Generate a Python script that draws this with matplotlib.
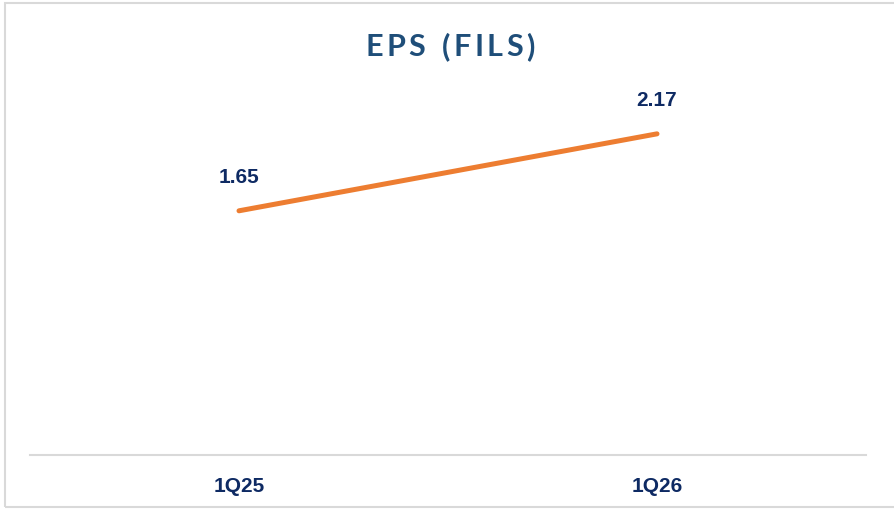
import matplotlib
matplotlib.use('Agg')
import matplotlib.pyplot as plt
from matplotlib.patches import Rectangle

# data
quarters = ['1Q25', '1Q26']
eps = [1.65, 2.17]

navy = '#0E2A63'
title_col = '#1F4E79'
orange = '#ED7D31'
grey = '#D9D9D9'

W, H = 894, 509
fig = plt.figure(figsize=(W / 100, H / 100), dpi=100)
ax = fig.add_axes([30 / W, (H - 455) / H, (866 - 30) / W, (455 - 85) / H])

x = list(range(len(quarters)))
ax.plot(x, eps, color=orange, lw=3.6, solid_capstyle='round')
for xi, v in zip(x, eps):
    ax.annotate(f'{v:.2f}', (xi, v), xytext=(0, 24), textcoords='offset points',
                ha='center', va='center', fontsize=15, fontweight='bold',
                color=navy, family='Liberation Sans')

ax.set_xlim(-0.5, len(quarters) - 0.5)
ax.set_ylim(0, 2.5)
ax.set_xticks(x)
ax.set_xticklabels(quarters, fontsize=15, fontweight='bold', color=navy,
                   family='Liberation Sans')
ax.tick_params(axis='x', length=0, pad=16)
ax.set_yticks([])
for s in ['top', 'right', 'left']:
    ax.spines[s].set_visible(False)
ax.spines['bottom'].set_color(grey)
ax.spines['bottom'].set_linewidth(1.5)

# outer border
fig.patches.append(Rectangle((5 / W, 2 / H), 1.0, (506 - 2) / H, transform=fig.transFigure,
                             fill=False, edgecolor=grey, lw=1.5, clip_on=False))

# letter-spaced title
title = 'EPS (FILS)'
tkw = dict(fontsize=22, fontweight='bold', color=title_col, family='Lato', va='center')
r = fig.canvas.get_renderer()
widths = []
for ch in title:
    if ch == ' ':
        widths.append(9)
        continue
    t = fig.text(0, 0, ch, **tkw)
    widths.append(t.get_window_extent(r).width)
    t.remove()
gap = 3.5
total = sum(widths) + gap * (len(title) - 1)
xpos = 450 - total / 2
for ch, w in zip(title, widths):
    if ch != ' ':
        fig.text(xpos / W, 1 - 47 / H, ch, ha='left', **tkw)
    xpos += w + gap

fig.savefig('out.png', dpi=100)
